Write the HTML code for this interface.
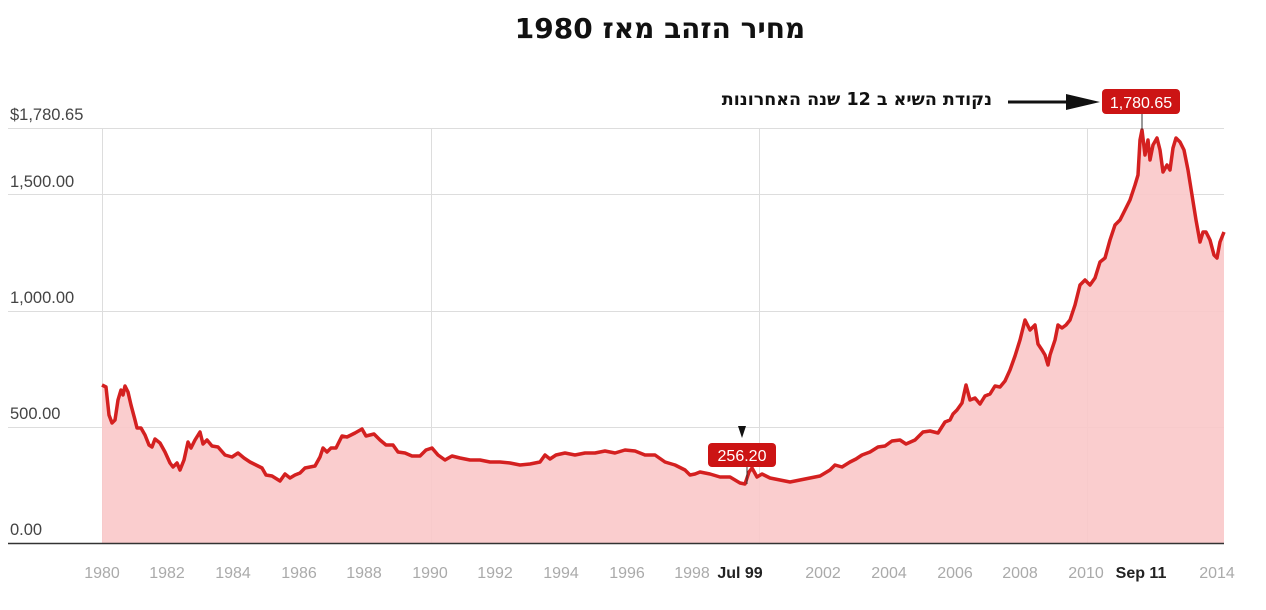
<!DOCTYPE html>
<html><head><meta charset="utf-8"><style>
body{margin:0;background:#fff;width:1266px;height:610px;overflow:hidden;font-family:"Liberation Sans","DejaVu Sans",sans-serif;position:relative}
.ann{position:absolute;right:274px;top:90px;direction:rtl;font-family:"DejaVu Sans",sans-serif;font-weight:bold;font-size:17.5px;color:#111;white-space:nowrap}
</style></head><body>
<svg width="1266" height="610" xmlns="http://www.w3.org/2000/svg" font-family="Liberation Sans, DejaVu Sans, sans-serif" style="position:absolute;left:0;top:0">
<text x="660" y="38" text-anchor="middle" font-size="28" font-weight="bold" fill="#111" font-family="DejaVu Sans, sans-serif">מחיר הזהב מאז 1980</text>
<g stroke="#ddd" stroke-width="1">
<line x1="8" y1="128.5" x2="1224" y2="128.5"/>
<line x1="8" y1="194.5" x2="1224" y2="194.5"/>
<line x1="8" y1="311.5" x2="1224" y2="311.5"/>
<line x1="8" y1="427.5" x2="1224" y2="427.5"/>
<line x1="102.5" y1="128" x2="102.5" y2="543"/>
<line x1="431.5" y1="128" x2="431.5" y2="543"/>
<line x1="759.5" y1="128" x2="759.5" y2="543"/>
<line x1="1087.5" y1="128" x2="1087.5" y2="543"/>
</g>
<g font-size="16.5" fill="#444">
<text x="10" y="120">$1,780.65</text>
<text x="10" y="187">1,500.00</text>
<text x="10" y="303">1,000.00</text>
<text x="10" y="419">500.00</text>
<text x="10" y="535">0.00</text>
</g>
<polygon fill="#f9c8c9" fill-opacity="0.9" points="102,543 102,385 106,387 109,415 112,423 115,420 118,400 121,390 123,395 125,386 128,392 131,405 135,420 137,428 141,428 145,435 149,445 152,447 155,439 160,443 165,452 170,463 173,467 177,463 180,470 184,460 188,442 191,448 195,440 200,432 203,444 207,440 212,446 218,447 225,455 232,457 238,453 244,458 250,462 256,465 262,468 266,475 272,476 280,481 285,474 290,478 295,475 300,473 305,468 315,466 320,457 323,448 327,452 331,448 336,448 342,436 347,437 355,433 362,429 366,436 374,434 380,440 386,445 393,445 398,452 405,453 412,456 420,456 426,450 432,448 438,455 445,460 452,456 460,458 470,460 480,460 490,462 500,462 510,463 520,465 530,464 540,462 545,455 550,459 556,455 565,453 575,455 585,453 595,453 605,451 615,453 625,450 635,451 645,455 655,455 665,462 675,465 685,470 690,475 695,474 700,472 710,474 720,477 730,477 740,483 745,484 749,472 752,468 757,477 762,474 770,478 780,480 790,482 800,480 810,478 820,476 830,470 835,465 842,467 850,462 856,459 862,455 870,452 878,447 885,446 892,441 900,440 906,444 915,440 923,432 930,431 938,433 945,422 950,420 953,414 957,410 962,403 966,385 970,400 975,398 980,404 985,396 990,394 995,386 1000,387 1005,381 1010,370 1015,356 1020,340 1025,320 1030,330 1035,325 1038,344 1042,350 1045,355 1048,365 1050,355 1055,340 1058,325 1062,328 1066,325 1070,320 1075,305 1080,285 1085,280 1090,285 1095,278 1100,262 1105,258 1110,240 1115,225 1120,220 1125,210 1130,200 1135,185 1138,175 1140,140 1142,130 1145,155 1148,140 1150,160 1153,145 1157,138 1160,150 1163,172 1167,165 1170,170 1173,148 1176,138 1180,142 1184,150 1188,170 1192,195 1196,220 1200,242 1203,232 1206,232 1210,240 1214,255 1217,258 1220,242 1224,232 1224,543"/>
<polyline fill="none" stroke="#d42020" stroke-width="3.5" stroke-linejoin="round" points="102,385 106,387 109,415 112,423 115,420 118,400 121,390 123,395 125,386 128,392 131,405 135,420 137,428 141,428 145,435 149,445 152,447 155,439 160,443 165,452 170,463 173,467 177,463 180,470 184,460 188,442 191,448 195,440 200,432 203,444 207,440 212,446 218,447 225,455 232,457 238,453 244,458 250,462 256,465 262,468 266,475 272,476 280,481 285,474 290,478 295,475 300,473 305,468 315,466 320,457 323,448 327,452 331,448 336,448 342,436 347,437 355,433 362,429 366,436 374,434 380,440 386,445 393,445 398,452 405,453 412,456 420,456 426,450 432,448 438,455 445,460 452,456 460,458 470,460 480,460 490,462 500,462 510,463 520,465 530,464 540,462 545,455 550,459 556,455 565,453 575,455 585,453 595,453 605,451 615,453 625,450 635,451 645,455 655,455 665,462 675,465 685,470 690,475 695,474 700,472 710,474 720,477 730,477 740,483 745,484 749,472 752,468 757,477 762,474 770,478 780,480 790,482 800,480 810,478 820,476 830,470 835,465 842,467 850,462 856,459 862,455 870,452 878,447 885,446 892,441 900,440 906,444 915,440 923,432 930,431 938,433 945,422 950,420 953,414 957,410 962,403 966,385 970,400 975,398 980,404 985,396 990,394 995,386 1000,387 1005,381 1010,370 1015,356 1020,340 1025,320 1030,330 1035,325 1038,344 1042,350 1045,355 1048,365 1050,355 1055,340 1058,325 1062,328 1066,325 1070,320 1075,305 1080,285 1085,280 1090,285 1095,278 1100,262 1105,258 1110,240 1115,225 1120,220 1125,210 1130,200 1135,185 1138,175 1140,140 1142,130 1145,155 1148,140 1150,160 1153,145 1157,138 1160,150 1163,172 1167,165 1170,170 1173,148 1176,138 1180,142 1184,150 1188,170 1192,195 1196,220 1200,242 1203,232 1206,232 1210,240 1214,255 1217,258 1220,242 1224,232"/>
<line x1="8" y1="543.5" x2="1224" y2="543.5" stroke="#333" stroke-width="1.5"/>
<g font-size="16" fill="#aaa" text-anchor="middle">
<text x="102" y="578">1980</text><text x="167" y="578">1982</text><text x="233" y="578">1984</text>
<text x="299" y="578">1986</text><text x="364" y="578">1988</text><text x="430" y="578">1990</text>
<text x="495" y="578">1992</text><text x="561" y="578">1994</text><text x="627" y="578">1996</text>
<text x="692" y="578">1998</text><text x="823" y="578">2002</text><text x="889" y="578">2004</text>
<text x="955" y="578">2006</text><text x="1020" y="578">2008</text><text x="1086" y="578">2010</text>
<text x="1217" y="578">2014</text>
</g>
<g font-size="16" fill="#222" font-weight="bold" text-anchor="middle">
<text x="740" y="578">Jul 99</text><text x="1141" y="578">Sep 11</text>
</g>
<line x1="747" y1="466" x2="747" y2="484" stroke="#333"/>
<polygon points="738,426 746,426 742,438" fill="#111"/>
<rect x="708" y="443" width="68" height="24" rx="4" fill="#cc1414"/>
<text x="742" y="461" text-anchor="middle" font-size="16" fill="#fff">256.20</text>
<line x1="1142" y1="114" x2="1142" y2="130" stroke="#333"/>
<rect x="1102" y="89" width="78" height="25" rx="4" fill="#cc1414"/>
<text x="1141" y="108" text-anchor="middle" font-size="16" fill="#fff">1,780.65</text>
<line x1="1008" y1="102" x2="1070" y2="102" stroke="#111" stroke-width="3"/>
<polygon points="1066,94 1100,102 1066,110" fill="#111"/>
</svg>
<div class="ann" dir="rtl">נקודת השיא ב 12 שנה האחרונות</div>
</body></html>
